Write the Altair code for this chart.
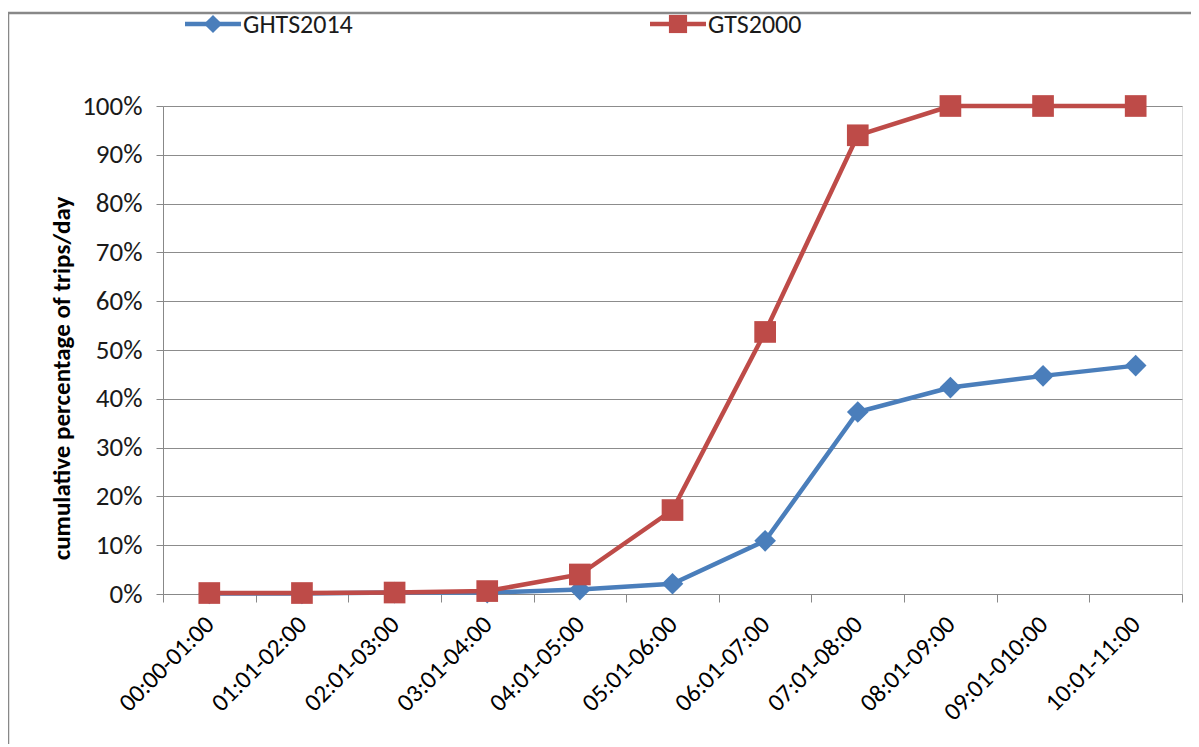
import altair as alt
import pandas as pd

categories = ["00:00-01:00", "01:01-02:00", "02:01-03:00", "03:01-04:00", "04:01-05:00",
              "05:01-06:00", "06:01-07:00", "07:01-08:00", "08:01-09:00", "09:01-010:00",
              "10:01-11:00"]
ghts2014 = [0.001, 0.001, 0.003, 0.003, 0.009, 0.021, 0.109, 0.373, 0.423, 0.447, 0.468]
gts2000 = [0.002, 0.002, 0.003, 0.006, 0.040, 0.172, 0.537, 0.940, 1.000, 1.000, 1.000]
series_names = ["GHTS2014", "GTS2000"]
colors = ["#4A7EBB", "#BE4B48"]
shapes = ["diamond", "square"]

rows = []
for i, c in enumerate(categories):
    rows.append({"cat": c, "series": "GHTS2014", "value": ghts2014[i]})
    rows.append({"cat": c, "series": "GTS2000", "value": gts2000[i]})
df = pd.DataFrame(rows)

FONT = "Carlito, Liberation Sans, Arial"
W, H = 1019, 488

xenc = alt.X("cat:N", sort=categories, title=None,
             scale=alt.Scale(type="band", paddingInner=0, paddingOuter=0),
             axis=alt.Axis(labelAngle=-45, labelAlign="right", labelBaseline="middle",
                           labelPadding=18, labelFontSize=25, labelFont=FONT, labelColor="#000",
                           tickBand="extent", tickSize=8, tickColor="#888", domainColor="#888",
                           grid=False, labelOverlap=False))
yenc = alt.Y("value:Q", title="cumulative percentage of trips/day",
             scale=alt.Scale(domain=[0, 1], nice=False),
             axis=alt.Axis(format=".0%", values=[i / 10 for i in range(11)], tickSize=7,
                           tickColor="#888", domainColor="#888", gridColor="#8c8c8c",
                           labelFontSize=27, labelFont=FONT, labelColor="#1a1a1a", labelPadding=14,
                           titleFontSize=25, titleFont=FONT, titleFontWeight="bold",
                           titleColor="#000", titlePadding=7, titleY=272))
color = alt.Color("series:N", scale=alt.Scale(domain=series_names, range=colors), legend=None)
shape = alt.Shape("series:N", scale=alt.Scale(domain=series_names, range=shapes), legend=None)

base = alt.Chart(df)
lines = base.mark_line(strokeWidth=4.5).encode(x=xenc, y=yenc, color=color, detail="series:N")
points = base.mark_point(filled=True, opacity=1, size=470, strokeWidth=1).encode(
    x=xenc, y=yenc, color=color, shape=shape)

# outer border (decorative)
border_df = pd.DataFrame({"b": [1]})
border = alt.Chart(border_df).mark_rect(fill=None, stroke="#888", strokeWidth=2.5).encode(
    x=alt.value(-155), x2=alt.value(W + 40), y=alt.value(-93), y2=alt.value(H + 200))

# manual legend
leg_df = pd.DataFrame({"series": series_names})
leg_x = [22, 487]
legend_layers = []
for i, s in enumerate(series_names):
    d = alt.Chart(leg_df).transform_filter(alt.datum.series == s)
    legend_layers.append(d.mark_rule(color=colors[i], strokeWidth=4.5).encode(
        x=alt.value(leg_x[i]), x2=alt.value(leg_x[i] + 56), y=alt.value(-82)))
    legend_layers.append(d.mark_point(filled=True, opacity=1, size=330, color=colors[i],
                                      shape=shapes[i]).encode(
        x=alt.value(leg_x[i] + 28), y=alt.value(-82)))
    legend_layers.append(d.mark_text(align="left", baseline="middle", fontSize=26, font=FONT,
                                     color="#1a1a1a").encode(
        x=alt.value(leg_x[i] + 58), y=alt.value(-81), text="series:N"))

chart = alt.layer(border, lines, points, *legend_layers).properties(
    width=W, height=H,
    padding={"left": 155, "top": 98, "right": 9, "bottom": 150},
    autosize=alt.AutoSizeParams(type="none"),
).configure_view(stroke=None).configure(background="white")

chart.save("out.html", embed_options={"renderer": "svg", "actions": False})
